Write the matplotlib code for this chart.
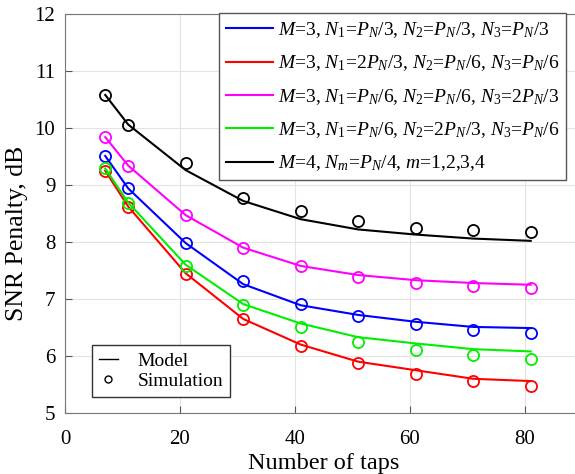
import numpy as np
import matplotlib
matplotlib.use("Agg")
import matplotlib.pyplot as plt
from matplotlib.lines import Line2D

plt.rcParams["font.family"] = "Liberation Serif"
plt.rcParams["mathtext.fontset"] = "custom"
plt.rcParams["mathtext.rm"] = "Liberation Serif"
plt.rcParams["mathtext.it"] = "Liberation Serif:italic"

taps = [7, 11, 21, 31, 41, 51, 61, 71, 81]

# model curves
model_blue = [9.51, 8.94, 7.98, 7.26, 6.89, 6.72, 6.60, 6.51, 6.49]
model_red = [9.25, 8.62, 7.45, 6.65, 6.20, 5.90, 5.75, 5.60, 5.56]
model_magenta = [9.84, 9.34, 8.47, 7.90, 7.58, 7.42, 7.33, 7.28, 7.25]
model_green = [9.29, 8.69, 7.60, 6.91, 6.57, 6.33, 6.22, 6.12, 6.08]
model_black = [10.58, 10.06, 9.26, 8.72, 8.40, 8.22, 8.13, 8.06, 8.02]

# simulation points
sim_blue = [9.51, 8.94, 7.98, 7.32, 6.92, 6.70, 6.56, 6.46, 6.41]
sim_red = [9.25, 8.62, 7.43, 6.65, 6.18, 5.88, 5.68, 5.56, 5.47]
sim_magenta = [9.84, 9.34, 8.47, 7.90, 7.58, 7.39, 7.28, 7.22, 7.19]
sim_green = [9.29, 8.69, 7.58, 6.89, 6.50, 6.25, 6.10, 6.01, 5.94]
sim_black = [10.58, 10.06, 9.38, 8.77, 8.54, 8.36, 8.25, 8.21, 8.18]

labels = [
    r"$M$=3, $N_{\mathit{1}}$=$P_{N}$/3, $N_{\mathit{2}}$=$P_{N}$/3, $N_{\mathit{3}}$=$P_{N}$/3",
    r"$M$=3, $N_{\mathit{1}}$=2$P_{N}$/3, $N_{\mathit{2}}$=$P_{N}$/6, $N_{\mathit{3}}$=$P_{N}$/6",
    r"$M$=3, $N_{\mathit{1}}$=$P_{N}$/6, $N_{\mathit{2}}$=$P_{N}$/6, $N_{\mathit{3}}$=2$P_{N}$/3",
    r"$M$=3, $N_{\mathit{1}}$=$P_{N}$/6, $N_{\mathit{2}}$=2$P_{N}$/3, $N_{\mathit{3}}$=$P_{N}$/6",
    r"$M$=4, $N_{m}$=$P_{N}$/4, $m$=1,2,3,4",
]
colors = ["#0000ff", "#ff0000", "#ff00ff", "#00ee00", "#000000"]
models = [model_blue, model_red, model_magenta, model_green, model_black]
sims = [sim_blue, sim_red, sim_magenta, sim_green, sim_black]

fig = plt.figure(figsize=(5.75, 4.74), dpi=100)
ax = fig.add_axes([0.113, 0.1287, 0.9, 0.8418])

handles = []
for m, s, c, lab in zip(models, sims, colors, labels):
    h, = ax.plot(taps, m, color=c, lw=1.5, label=lab)
    ax.plot(taps, s, "o", color=c, mfc="none", ms=8, mew=1.3)
    handles.append(h)

ax.set_xlim(0, 90)
ax.set_ylim(5, 12)
ax.set_xticks([0, 20, 40, 60, 80])
ax.set_yticks([5, 6, 7, 8, 9, 10, 11, 12])
ax.grid(True, color="#e3e3e3", lw=0.8)
ax.set_axisbelow(True)
ax.tick_params(direction="in", labelsize=15, length=5, color="#555555")
ax.tick_params(axis="x", pad=12)
ax.tick_params(axis="y", pad=7)
for sp in ax.spines.values():
    sp.set_color("#777777")
ax.set_xlabel("Number of taps", fontsize=17.5, labelpad=3)
ax.set_ylabel("SNR Penalty, dB", fontsize=18.5)
ax.yaxis.set_label_coords(-0.072, 0.45)

leg1 = ax.legend(handles=handles, loc="upper left",
                 bbox_to_anchor=(0.298, 1.002), fontsize=14,
                 borderaxespad=0, fancybox=False, framealpha=1,
                 edgecolor="#555555", handlelength=2.4, handletextpad=0.25,
                 labelspacing=0.7, borderpad=0.35)
ax.add_artist(leg1)

h_model = Line2D([], [], color="black", lw=1)
h_sim = Line2D([], [], color="black", marker="o", ls="none", mfc="none", ms=5)
ax.legend([h_model, h_sim], ["Model", "Simulation"], loc="lower left",
          bbox_to_anchor=(0.052, 0.04), fontsize=14, fancybox=False,
          borderaxespad=0, framealpha=1, edgecolor="#333333",
          handlelength=1.0, handletextpad=1.0, labelspacing=0.15,
          borderpad=0.35)

fig.savefig("out.png", dpi=100)
